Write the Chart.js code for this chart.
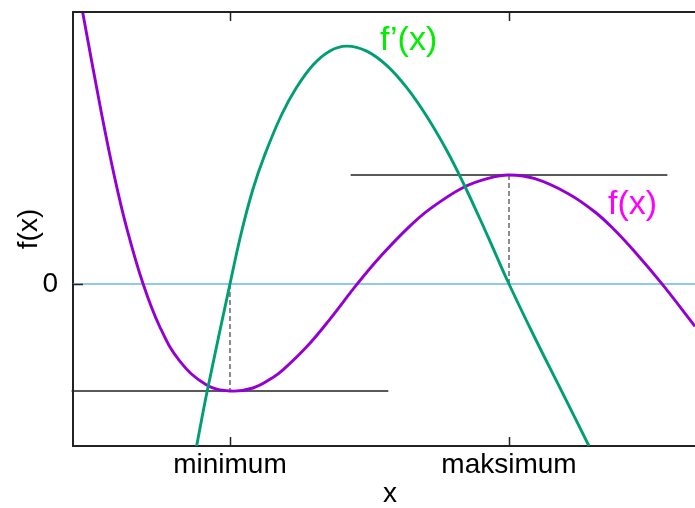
<!DOCTYPE html>
<html>
<head>
<meta charset="utf-8">
<script src="https://cdn.jsdelivr.net/npm/chart.js@4.4.1/dist/chart.umd.min.js"></script>
<style>
  html, body { margin: 0; padding: 0; background: #fff; }
  canvas { display: block; }
</style>
</head>
<body>
<canvas id="chart" width="695" height="508"></canvas>
<script>
// Axis extents and tick marks (the plot frame runs a little past the right canvas edge)
const xRange = [-0.125, 4.419];
const yRange = [-1.62, 2.72];
const xTickValues = [1, 3];
const xTickLabels = ['minimum', 'maksimum'];
const yTickValues = [0];
const yTickLabels = ['0'];

// f(x): sampled along the curve
const fX = [-0.058, 0.077, 0.178, 0.262, 0.376, 0.496, 0.639, 0.83, 1.0, 1.165, 1.308, 1.38, 1.55, 1.717, 1.908, 2.075, 2.278, 2.434, 2.672, 2.864, 3.0, 3.186, 3.425, 3.616, 3.76, 3.903, 4.095, 4.333];
const fY = [2.735, 1.723, 1.036, 0.549, 0.007, -0.425, -0.768, -1.007, -1.07, -1.04, -0.934, -0.859, -0.628, -0.351, -0.007, 0.27, 0.564, 0.751, 0.965, 1.061, 1.09, 1.053, 0.903, 0.72, 0.535, 0.32, 0.003, -0.423];

// f'(x): sampled along the curve
const dX = [0.761, 0.837, 1.0, 1.081, 1.165, 1.249, 1.369, 1.478, 1.597, 1.717, 1.837, 1.98, 2.123, 2.267, 2.41, 2.553, 2.672, 2.792, 2.864, 3.0, 3.186, 3.378, 3.573];
const dY = [-1.62, -1.07, 0.0, 0.51, 0.95, 1.29, 1.69, 1.967, 2.193, 2.331, 2.379, 2.329, 2.186, 1.963, 1.677, 1.337, 1.01, 0.65, 0.427, 0.0, -0.54, -1.074, -1.62];

// Extremum points and the horizontal tangents through them
const minPoint = [1, -1.07];
const maxPoint = [3, 1.09];
const tangentHalfWidth = 1.135;

const pts = (xs, ys) => xs.map((x, i) => ({ x, y: ys[i] }));

const FONT = "'Liberation Sans', Arial, sans-serif";
const FRAME_OVERHANG = 12; // plot frame extends this many px beyond the canvas on the right

const framePlugin = {
  id: 'frame',
  afterLayout(chart) {
    const x = chart.scales.x;
    x.right += FRAME_OVERHANG;
    x.width += FRAME_OVERHANG;
    x.configure();
    chart.chartArea.right += FRAME_OVERHANG;
    chart.chartArea.width += FRAME_OVERHANG;
  },
  afterDatasetsDraw(chart) {
    const { ctx, chartArea: a, scales: { x, y } } = chart;
    ctx.save();
    // top border
    ctx.strokeStyle = '#222';
    ctx.lineWidth = 2;
    ctx.beginPath();
    ctx.moveTo(a.left - 1, a.top);
    ctx.lineTo(a.right, a.top);
    ctx.stroke();
    // inward ticks on bottom and mirrored on top
    ctx.lineWidth = 1.5;
    x.ticks.forEach(t => {
      const px = Math.round(x.getPixelForValue(t.value)) + 0.5;
      ctx.beginPath();
      ctx.moveTo(px, a.bottom);
      ctx.lineTo(px, a.bottom - 9);
      ctx.moveTo(px, a.top);
      ctx.lineTo(px, a.top + 9);
      ctx.stroke();
    });
    y.ticks.forEach(t => {
      const py = Math.round(y.getPixelForValue(t.value)) + 0.5;
      ctx.beginPath();
      ctx.moveTo(a.left, py);
      ctx.lineTo(a.left + 10, py);
      ctx.stroke();
    });
    // curve labels
    ctx.font = '34px ' + FONT;
    ctx.textAlign = 'left';
    ctx.textBaseline = 'alphabetic';
    ctx.fillStyle = '#00ee00';
    ctx.fillText('f\u2019(x)', x.getPixelForValue(2.075), y.getPixelForValue(2.34));
    ctx.fillStyle = '#ff00ff';
    ctx.fillText('f(x)', x.getPixelForValue(3.71), y.getPixelForValue(0.70));
    ctx.restore();
  }
};

const curve = (label, xs, ys, color, order) => ({
  label,
  data: pts(xs, ys),
  showLine: true,
  borderColor: color,
  borderWidth: 2.9,
  pointRadius: 0,
  tension: 0.4,
  order
});

const segment = (label, a, b, color, width, dash, order, clip) => ({
  label,
  data: [{ x: a[0], y: a[1] }, { x: b[0], y: b[1] }],
  showLine: true,
  borderColor: color,
  borderWidth: width,
  borderDash: dash,
  pointRadius: 0,
  clip: clip,
  order
});

new Chart(document.getElementById('chart'), {
  type: 'scatter',
  data: {
    datasets: [
      curve("f'(x)", dX, dY, '#009e73', 0),
      curve('f(x)', fX, fY, '#9400d3', 1),
      segment('tangent min', [minPoint[0] - tangentHalfWidth, minPoint[1]], [minPoint[0] + tangentHalfWidth, minPoint[1]], '#222', 1.6, [], 2, false),
      segment('tangent max', [maxPoint[0] - tangentHalfWidth, maxPoint[1]], [maxPoint[0] + tangentHalfWidth, maxPoint[1]], '#222', 1.6, [], 2, undefined),
      segment('drop min', [minPoint[0], 0], [minPoint[0], minPoint[1]], '#666', 1.5, [5, 3], 3, undefined),
      segment('drop max', [maxPoint[0], maxPoint[1]], [maxPoint[0], 0], '#666', 1.5, [5, 3], 3, undefined),
      segment('zero', [xRange[0], 0], [xRange[1], 0], '#6cb8e6', 1.5, [], 4, undefined)
    ]
  },
  options: {
    responsive: false,
    animation: false,
    devicePixelRatio: 1,
    layout: { padding: { top: 12, right: 0, left: 0, bottom: 0 } },
    plugins: { legend: { display: false }, tooltip: { enabled: false } },
    scales: {
      x: {
        type: 'linear',
        min: xRange[0],
        max: xRange[1],
        afterBuildTicks: s => { s.ticks = xTickValues.map(v => ({ value: v })); },
        afterFit: s => { s.height = 62; s.paddingLeft = 0; s.paddingRight = 0; },
        grid: { display: false, drawTicks: false },
        border: { display: true, color: '#222', width: 2 },
        ticks: {
          autoSkip: false,
          maxRotation: 0,
          padding: 2,
          color: '#000',
          font: { family: FONT, size: 28, lineHeight: 1.2 },
          callback: (v, i) => xTickLabels[i]
        },
        title: {
          display: true,
          text: 'x',
          color: '#000',
          padding: { top: 0, bottom: 0 },
          font: { family: FONT, size: 28, lineHeight: 1 }
        }
      },
      y: {
        type: 'linear',
        min: yRange[0],
        max: yRange[1],
        afterBuildTicks: s => { s.ticks = yTickValues.map(v => ({ value: v })); },
        afterFit: s => { s.width = 73; s.paddingTop = 0; s.paddingBottom = 0; },
        grid: { display: false, drawTicks: false },
        border: { display: true, color: '#222', width: 2 },
        ticks: {
          padding: 15,
          color: '#000',
          font: { family: FONT, size: 28, lineHeight: 1.2 },
          callback: (v, i) => yTickLabels[i]
        },
        title: {
          display: true,
          text: 'f(x)',
          color: '#000',
          padding: { top: 15, bottom: 0 },
          font: { family: FONT, size: 28, lineHeight: 1 }
        }
      }
    }
  },
  plugins: [framePlugin]
});
</script>
</body>
</html>
